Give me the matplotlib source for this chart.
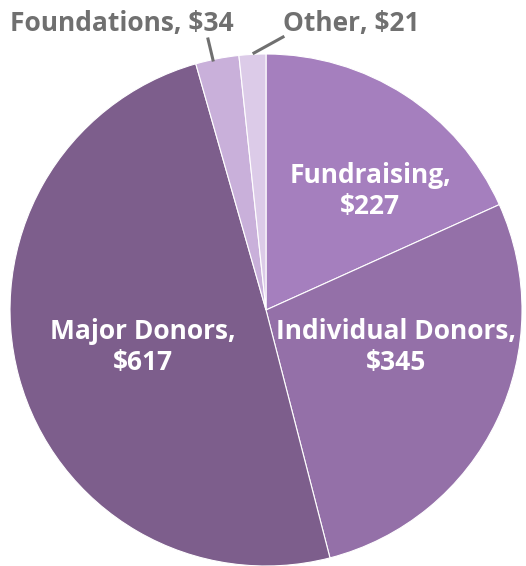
import matplotlib.pyplot as plt

labels = ["Fundraising", "Individual Donors", "Major Donors", "Foundations", "Other"]
values = [227, 345, 617, 34, 21]
colors = ["#a57fbe", "#9470a8", "#7d5e8c", "#c9b0da", "#dccbe8"]

fig = plt.figure(figsize=(5.26, 5.66), dpi=100)
ax = fig.add_axes([0, 0, 1, 1])

ax.pie(values, colors=colors, startangle=90, counterclock=False,
       center=(266, 256), radius=256, frame=True,
       wedgeprops=dict(edgecolor="white", linewidth=0.8))
ax.set_xlim(0, 526)
ax.set_ylim(0, 566)
ax.set_aspect("equal")
ax.axis("off")

font = dict(family=["Open Sans", "DejaVu Sans"], fontweight="bold", fontsize=19)

# labels inside the slices
inside = {0: (370, 375), 1: (396, 219), 2: (143, 219)}
for i, (x, y) in inside.items():
    ax.text(x, y, f"{labels[i]},\n${values[i]}", color="white", ha="center",
            va="center", linespacing=1.22, **font)

# outside labels with leader lines
gray = "#707070"
ax.text(10, 542, f"{labels[3]}, ${values[3]}", color=gray, ha="left", va="center", **font)
ax.plot([208, 213], [527, 506], color=gray, lw=2.2)
ax.text(283, 542, f"{labels[4]}, ${values[4]}", color=gray, ha="left", va="center", **font)
ax.plot([283, 254], [529, 513], color=gray, lw=2.2)

fig.savefig("out.png", dpi=100)
